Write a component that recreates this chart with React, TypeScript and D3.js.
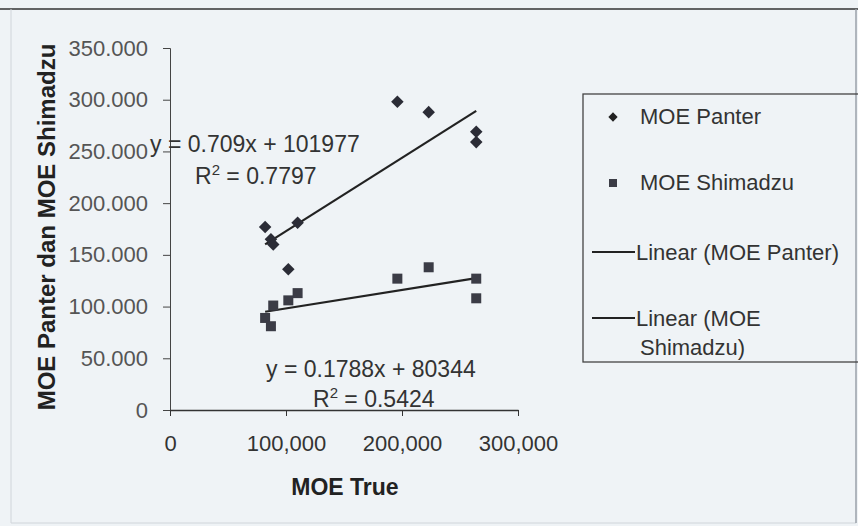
import * as d3 from "d3";
import React, { useEffect, useRef } from "react";

// MOE True (x) for each sample, and the two measured series
const moeTrue = [82000, 87000, 89000, 102000, 110000, 196000, 223000, 264000, 264000];
const moePanter = [177000, 165000, 160000, 136000, 181000, 298000, 288000, 269000, 259000];
const moeShimadzu = [89000, 81000, 101000, 106000, 113000, 127000, 138000, 127000, 108000];

// trend lines as printed on the chart
const trendPanter = { slope: 0.709, intercept: 101977, r2: "0.7797" };
const trendShimadzu = { slope: 0.1788, intercept: 80344, r2: "0.5424" };

const yTicks = [0, 50000, 100000, 150000, 200000, 250000, 300000, 350000];
const xTicks = [0, 100000, 200000, 300000];
const legendLabels = ["MOE Panter", "MOE Shimadzu", "Linear (MOE Panter)", "Linear (MOE", "Shimadzu)"];

const W = 858;
const H = 526;
const FONT = "'Liberation Sans', Arial, sans-serif";

export default function App() {
  const ref = useRef<SVGSVGElement>(null);

  useEffect(() => {
    const svg = d3.select(ref.current);
    svg.selectAll("*").remove();

    svg.append("rect").attr("width", W).attr("height", H).attr("fill", "#eff3f6");

    // outer frame of the scanned chart
    svg.append("line").attr("x1", 0).attr("x2", W).attr("y1", 9).attr("y2", 9).attr("stroke", "#333").attr("stroke-width", 1.5);
    svg.append("line").attr("x1", 11).attr("x2", 11).attr("y1", 9).attr("y2", 523).attr("stroke", "#d0d5da");
    svg.append("line").attr("x1", 11).attr("x2", 856).attr("y1", 523).attr("y2", 523).attr("stroke", "#d0d5da");
    svg.append("line").attr("x1", 856).attr("x2", 856).attr("y1", 9).attr("y2", 523).attr("stroke", "#9aa0a8").attr("stroke-width", 1.5);

    const x = d3.scaleLinear().domain([0, 300000]).range([170, 518]);
    const y = d3.scaleLinear().domain([0, 350000]).range([410, 48]);

    // y axis
    const yAxis = svg.append("g").attr("transform", `translate(${x(0)},0)`)
      .call(d3.axisLeft(y).tickValues(yTicks).tickSize(7).tickFormat((d) => (d === 0 ? "0" : d3.format(",")(d as number).replace(",", "."))));
    yAxis.select(".domain").attr("stroke", "#444");
    yAxis.selectAll(".tick line").attr("stroke", "#444");
    yAxis.selectAll("text").attr("x", -22).attr("fill", "#555").style("font-family", FONT).style("font-size", "22px");

    // x axis
    const xAxis = svg.append("g").attr("transform", `translate(0,${y(0)})`)
      .call(d3.axisBottom(x).tickValues(xTicks).tickSize(6).tickSizeOuter(0).tickFormat(d3.format(",")));
    xAxis.select(".domain").attr("stroke", "#333").attr("stroke-width", 1.5);
    xAxis.selectAll(".tick line").attr("stroke", "#333");
    xAxis.selectAll("text").attr("y", 25).attr("fill", "#333").style("font-family", FONT).style("font-size", "22px");

    // trend lines over the data range
    const [xMin, xMax] = d3.extent(moeTrue) as [number, number];
    const line = d3.line<number>().x((d) => x(d)).y((d) => y(d));
    [trendPanter, trendShimadzu].forEach((t) => {
      svg.append("path")
        .attr("d", line.y((d) => y(t.slope * d + t.intercept))([xMin, xMax]))
        .attr("stroke", "#222").attr("stroke-width", 2.2).attr("fill", "none");
    });

    // points
    const diamond = d3.symbol().type(d3.symbolDiamond2).size(100);
    svg.append("g").selectAll("path").data(moeTrue).enter().append("path")
      .attr("d", diamond)
      .attr("transform", (d, i) => `translate(${x(d)},${y(moePanter[i])})`)
      .attr("fill", "#2b2c36");
    svg.append("g").selectAll("rect").data(moeTrue).enter().append("rect")
      .attr("x", (d) => x(d) - 5).attr("y", (d, i) => y(moeShimadzu[i]) - 5)
      .attr("width", 10).attr("height", 10)
      .attr("fill", "#3b3c46");

    // equation labels
    const eq = (txt: string, r2: string, ex: number, ey: number, rx: number, ry: number) => {
      svg.append("text").attr("x", ex).attr("y", ey).text(txt)
        .attr("fill", "#333").style("font-family", FONT).style("font-size", "23px");
      const t = svg.append("text").attr("x", rx).attr("y", ry)
        .attr("fill", "#333").style("font-family", FONT).style("font-size", "23px");
      t.append("tspan").text("R");
      t.append("tspan").text("2").attr("dy", -9).style("font-size", "15px");
      t.append("tspan").text(` = ${r2}`).attr("dy", 9);
    };
    eq(`y = ${trendPanter.slope}x + ${trendPanter.intercept}`, trendPanter.r2, 150, 152, 195, 184);
    eq(`y = ${trendShimadzu.slope}x + ${trendShimadzu.intercept}`, trendShimadzu.r2, 266, 377, 313, 407);

    // axis titles
    svg.append("text").attr("x", 345).attr("y", 495).attr("text-anchor", "middle").text("MOE True")
      .attr("fill", "#222").style("font-family", FONT).style("font-size", "23px").style("font-weight", "bold");
    svg.append("text").attr("transform", "translate(55,227) rotate(-90)").attr("text-anchor", "middle")
      .text("MOE Panter dan MOE Shimadzu")
      .attr("fill", "#222").style("font-family", FONT).style("font-size", "24px").style("font-weight", "bold");

    // legend
    const lg = svg.append("g");
    lg.append("rect").attr("x", 583).attr("y", 94).attr("width", 300).attr("height", 268)
      .attr("fill", "none").attr("stroke", "#444").attr("stroke-width", 1.3);
    lg.append("path").attr("d", d3.symbol().type(d3.symbolDiamond2).size(55)).attr("transform", "translate(613,117)").attr("fill", "#222");
    lg.append("rect").attr("x", 609).attr("y", 179).attr("width", 8).attr("height", 8).attr("fill", "#3b3c46");
    lg.append("line").attr("x1", 592).attr("x2", 635).attr("y1", 252).attr("y2", 252).attr("stroke", "#222").attr("stroke-width", 2.2);
    lg.append("line").attr("x1", 592).attr("x2", 635).attr("y1", 318).attr("y2", 318).attr("stroke", "#222").attr("stroke-width", 2.2);
    const lpos = [[640, 124], [640, 190], [636, 260], [636, 326], [640, 355]];
    legendLabels.forEach((l, i) => {
      lg.append("text").attr("x", lpos[i][0]).attr("y", lpos[i][1]).text(l)
        .attr("fill", "#333").style("font-family", FONT).style("font-size", "22px");
    });
  }, []);

  return (
    <svg ref={ref} width={W} height={H} style={{ position: "absolute", left: 0, top: 0, display: "block" }} />
  );
}
